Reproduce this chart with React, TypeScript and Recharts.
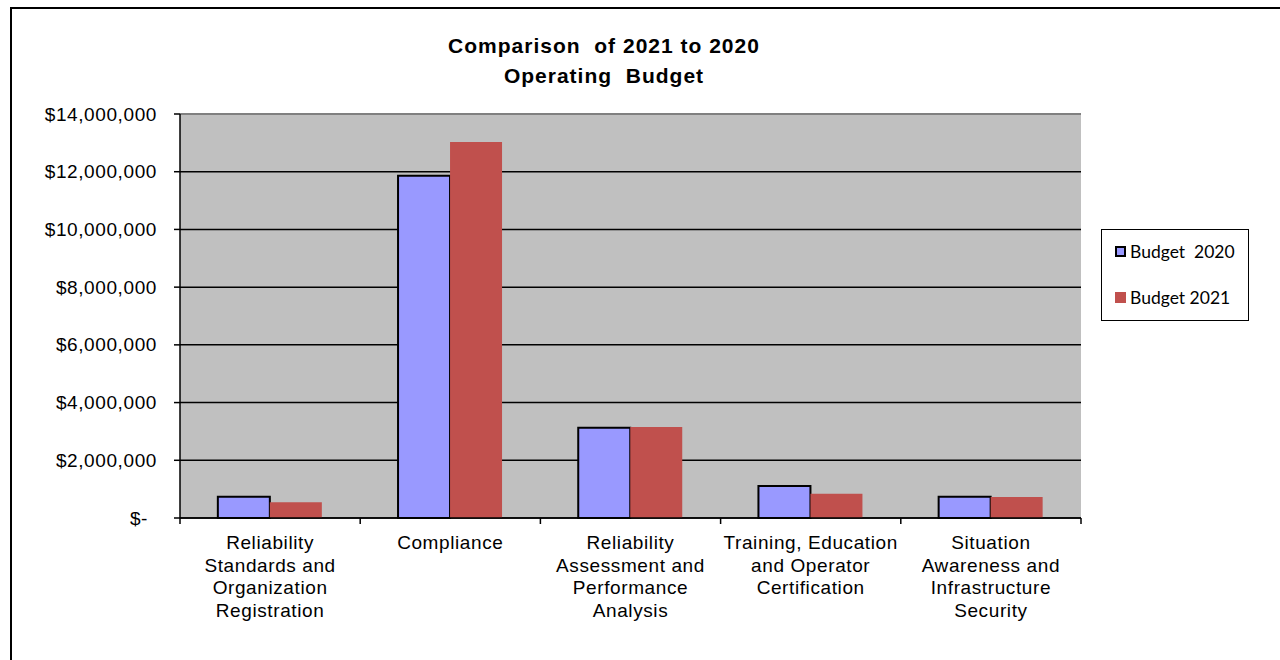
import React from "react";
import {
  BarChart,
  Bar,
  XAxis,
  YAxis,
  CartesianGrid,
  ReferenceLine,
} from "recharts";

const categories = [
  "Reliability\nStandards and\nOrganization\nRegistration",
  "Compliance",
  "Reliability\nAssessment and\nPerformance\nAnalysis",
  "Training, Education\nand Operator\nCertification",
  "Situation\nAwareness and\nInfrastructure\nSecurity",
];
const budget2020 = [740000, 11860000, 3130000, 1110000, 740000];
const budget2021 = [550000, 13030000, 3150000, 840000, 730000];
const yTicks = [0, 2000000, 4000000, 6000000, 8000000, 10000000, 12000000, 14000000];
const titleLines = ["Comparison  of 2021 to 2020", "Operating  Budget"];
const seriesNames = ["Budget  2020", "Budget 2021"];
const seriesColors = ["#9999FF", "#C0504D"];

const data = categories.map((c, i) => ({
  name: c,
  b2020: budget2020[i],
  b2021: budget2021[i],
}));

const FONT = "'Liberation Sans', Arial, sans-serif";

const XTick = (props: any) => {
  const { x, y, payload, width, index } = props;
  const lines = String(payload.value).split("\n");
  const n = props.visibleTicksCount || categories.length;
  const half = (width || 0) / n / 2;
  return (
    <g>
      <line x1={x - half} x2={x - half} y1={y} y2={y + 6} stroke="#000" strokeWidth={1.5} />
      {index === n - 1 && (
        <line x1={x + half} x2={x + half} y1={y} y2={y + 6} stroke="#000" strokeWidth={1.5} />
      )}
      <text
        x={x}
        y={y}
        textAnchor="middle"
        fontFamily={FONT}
        fontSize={19}
        letterSpacing={0.6}
        fill="#000"
      >
        {lines.map((l: string, i: number) => (
          <tspan key={i} x={x} dy={i === 0 ? 31 : 22.7}>
            {l}
          </tspan>
        ))}
      </text>
    </g>
  );
};

const YTick = (props: any) => {
  const { x, y, payload } = props;
  const v = payload.value as number;
  const label = v === 0 ? "$-" : "$" + v.toLocaleString("en-US");
  return (
    <text
      x={v === 0 ? x - 9 : x}
      y={y}
      dy={6.5}
      textAnchor="end"
      fontFamily={FONT}
      fontSize={19}
      letterSpacing={0.6}
      fill="#000"
    >
      {label}
    </text>
  );
};

const LegendBox = () => (
  <div
    style={{
      position: "absolute",
      left: 1101,
      top: 229,
      width: 148,
      height: 92,
      border: "1.5px solid #000",
      background: "#fff",
      boxSizing: "border-box",
      fontFamily: "Lato, 'Open Sans', sans-serif",
      fontSize: 17.5,
      color: "#000",
      paddingTop: 10,
      paddingLeft: 13,
    }}
  >
    {seriesNames.map((n, i) => (
      <div
        key={i}
        style={{
          display: "flex",
          alignItems: "center",
          height: 23,
          marginBottom: i === 0 ? 23 : 0,
          whiteSpace: "pre",
        }}
      >
        <span
          style={{
            display: "inline-block",
            width: 11,
            height: 11,
            boxSizing: "border-box",
            background: seriesColors[i],
            border: i === 0 ? "2px solid #000" : "none",
            marginRight: 4,
          }}
        />
        {n}
      </div>
    ))}
  </div>
);

export default function App() {
  return (
    <div
      style={{
        position: "absolute",
        left: 0,
        top: 0,
        width: 1280,
        height: 660,
        background: "#fff",
        overflow: "hidden",
      }}
    >
      <div
        style={{
          position: "absolute",
          left: 10,
          top: 7,
          width: 1290,
          height: 700,
          borderLeft: "2px solid #000",
          borderTop: "2px solid #000",
        }}
      />
      <div
        style={{
          position: "absolute",
          left: 404,
          top: 31,
          width: 400,
          textAlign: "center",
          fontFamily: FONT,
          fontWeight: "bold",
          fontSize: 21,
          lineHeight: "30px",
          letterSpacing: 1,
          whiteSpace: "pre",
          color: "#000",
        }}
      >
        {titleLines.map((t, i) => (
          <div key={i}>{t}</div>
        ))}
      </div>
      <div style={{ position: "absolute", left: 0, top: 0 }}>
        <BarChart
          width={1280}
          height={660}
          data={data}
          margin={{ top: 114, right: 199, bottom: 0, left: 0 }}
          barGap={0}
          barCategoryGap="21%"
        >
          <CartesianGrid
            vertical={false}
            stroke="#000"
            strokeWidth={1.5}
            fill="#C0C0C0"
            fillOpacity={1}
          />
          <XAxis
            dataKey="name"
            height={142}
            tick={<XTick />}
            tickLine={false}
            tickSize={0}
            tickMargin={0}
            interval={0}
            axisLine={{ stroke: "#000", strokeWidth: 1.5 }}
          />
          <YAxis
            width={180}
            domain={[0, 14000000]}
            ticks={yTicks}
            interval={0}
            tick={<YTick />}
            tickSize={6}
            tickMargin={17}
            axisLine={{ stroke: "#000", strokeWidth: 1.5 }}
            tickLine={{ stroke: "#000", strokeWidth: 1.5 }}
          />
          <YAxis
            yAxisId="r"
            orientation="right"
            width={0}
            domain={[0, 1]}
            tick={false}
            tickLine={false}
            axisLine={{ stroke: "#808080", strokeWidth: 2 }}
          />
          <ReferenceLine y={14000000} stroke="#808080" strokeWidth={2} />
          <Bar
            dataKey="b2020"
            name={seriesNames[0]}
            fill={seriesColors[0]}
            stroke="#000"
            strokeWidth={2}
            isAnimationActive={false}
          />
          <Bar
            dataKey="b2021"
            name={seriesNames[1]}
            fill={seriesColors[1]}
            isAnimationActive={false}
          />
        </BarChart>
      </div>
      <LegendBox />
    </div>
  );
}
